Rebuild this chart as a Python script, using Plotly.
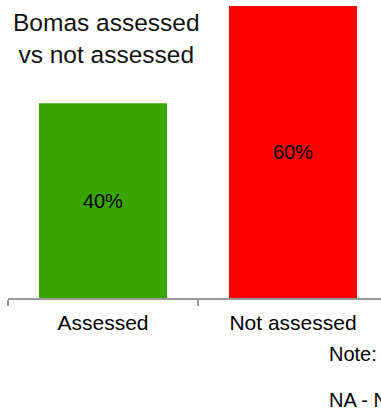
import plotly.graph_objects as go

categories = ["Assessed", "Not assessed"]
values = [40, 60]
labels = ["40%", "60%"]
colors = ["#3AA500", "#FF0000"]

W, H = 381, 417
L, R, T, B = 8, 0, 6, 119

pw = W - L - R
ph = H - T - B

fig = go.Figure(go.Bar(
    x=categories, y=values, text=labels,
    marker=dict(color=colors, line=dict(width=0)),
    width=0.674,
    textposition="inside", insidetextanchor="middle",
    textfont=dict(size=20, color="black", family="Liberation Sans, Arial, sans-serif"),
    hoverinfo="skip",
))


def px(x):
    return (x - L) / pw


def py(y):
    return (H - B - y) / ph


fig.update_layout(
    width=W, height=H,
    margin=dict(l=L, r=R, t=T, b=B, pad=0),
    paper_bgcolor="white", plot_bgcolor="white",
    showlegend=False,
    font=dict(family="Liberation Sans, Arial, sans-serif", color="black"),
    xaxis=dict(
        range=[-0.5, -0.5 + pw / 190.0],
        showline=True, linecolor="#999999", linewidth=1.5,
        ticks="outside", tickson="boundaries", ticklen=6, tickcolor="#999999", tickwidth=1.5,
        tickfont=dict(size=21, color="black"),
        ticklabelstandoff=5,
        showgrid=False, zeroline=False,
    ),
    yaxis=dict(range=[0, 60], visible=False, showgrid=False, zeroline=False),
    annotations=[
        dict(text="Bomas assessed<br>vs not assessed", xref="paper", yref="paper",
             x=px(106), y=py(38), xanchor="center", yanchor="middle", showarrow=False,
             font=dict(size=24.5, color="#111111"), align="center"),
        dict(text="Note:", xref="paper", yref="paper", x=px(327), y=py(354),
             xanchor="left", yanchor="middle", showarrow=False, font=dict(size=20, color="black")),
        dict(text="NA - N", xref="paper", yref="paper", x=px(327), y=py(400),
             xanchor="left", yanchor="middle", showarrow=False, font=dict(size=20, color="black")),
    ],
)

fig.write_html(
    "out.html",
    config={"displayModeBar": False},
    post_script="document.body.style.margin='0';document.body.style.overflow='hidden';",
)
